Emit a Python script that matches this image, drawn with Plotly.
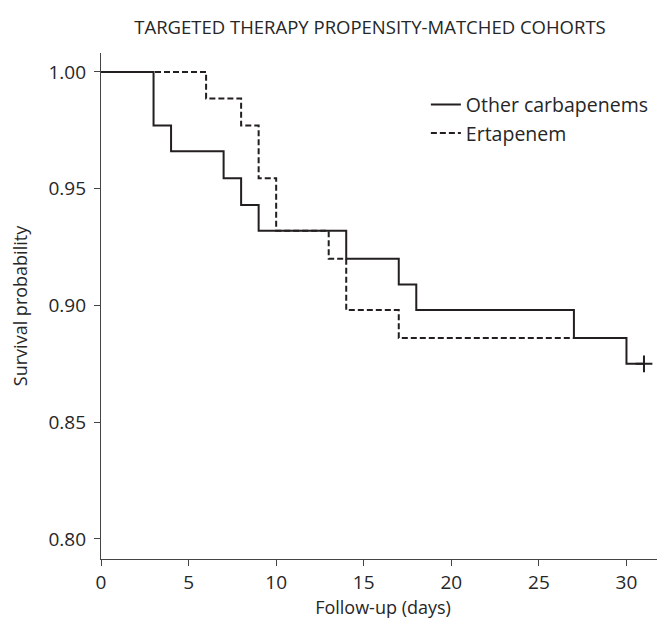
import plotly.graph_objects as go

# Kaplan-Meier step data (time in days, survival probability)
other_t = [0, 3, 4, 7, 8, 9, 14, 17, 18, 27, 30, 31]
other_s = [1.0, 0.977, 0.966, 0.9545, 0.943, 0.932, 0.920, 0.909, 0.898, 0.886, 0.875, 0.875]
erta_t = [0, 6, 8, 9, 10, 13, 14, 17, 27]
erta_s = [1.0, 0.9886, 0.977, 0.9545, 0.932, 0.920, 0.898, 0.886, 0.886]
censor_t = [31]
censor_s = [0.875]

x_ticks = [0, 5, 10, 15, 20, 25, 30]
y_ticks = [0.80, 0.85, 0.90, 0.95, 1.00]

ink = "#231f20"
txt = "#262626"
axc = "#444444"

fig = go.Figure()
fig.add_trace(go.Scatter(x=erta_t, y=erta_s, mode="lines", line_shape="hv",
                         line=dict(color=ink, width=2, dash="6px,3px"), name="Ertapenem"))
fig.add_trace(go.Scatter(x=other_t, y=other_s, mode="lines", line_shape="hv",
                         line=dict(color=ink, width=2), name="Other carbapenems"))
fig.add_trace(go.Scatter(x=censor_t, y=censor_s, mode="markers", showlegend=False,
                         marker=dict(symbol="cross-thin", size=12,
                                     line=dict(color=ink, width=2))))

fig.update_layout(
    width=657, height=618,
    margin=dict(l=93, r=0, t=45, b=67),
    paper_bgcolor="white", plot_bgcolor="white",
    font=dict(family="Open Sans", size=18, color=txt),
    title=dict(text="TARGETED THERAPY PROPENSITY-MATCHED COHORTS",
               x=0.551, xanchor="center", xref="container", y=0.968, yanchor="middle",
               font=dict(size=18.5, color=txt)),
    legend=dict(x=0.576, y=0.936, xanchor="left", yanchor="top",
                traceorder="reversed", bgcolor="rgba(0,0,0,0)",
                font=dict(size=19.5, color=txt), itemwidth=30),
)
fig.update_xaxes(range=[0, 32.2], tickvals=x_ticks, ticks="outside", ticklen=6,
                 tickcolor=axc, showline=True, linecolor=axc, linewidth=1.2,
                 showgrid=False, zeroline=False, automargin=False,
                 tickfont=dict(size=19),
                 title=dict(text="Follow-up (days)", standoff=6, font=dict(size=18)))
fig.update_yaxes(range=[0.7914, 1.0081], tickvals=y_ticks, tickformat=".2f",
                 ticks="outside", ticklen=6, tickcolor=axc, showline=True,
                 linecolor=axc, linewidth=1.2, showgrid=False, zeroline=False,
                 automargin=False, tickfont=dict(size=19), ticklabelstandoff=4,
                 title=dict(text="Survival probability", standoff=27, font=dict(size=18)))

fig.write_html("out.html")
